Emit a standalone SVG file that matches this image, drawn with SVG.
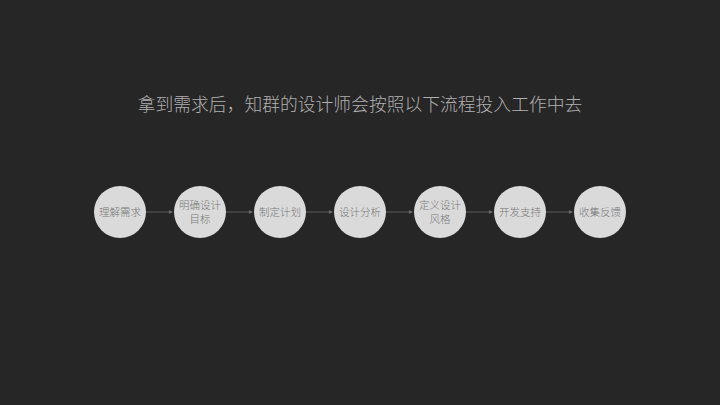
<svg xmlns="http://www.w3.org/2000/svg" width="720" height="405" viewBox="0 0 720 405">
<defs>
<style>
.bg{fill:#262626}
.title{font-family:"Noto Sans CJK SC","Noto Sans",sans-serif;font-size:17.8px;font-weight:300;fill:#b0b0b0;text-anchor:middle}
.node circle{fill:#dadada}
.node text{font-family:"Noto Sans CJK SC","Noto Sans",sans-serif;font-size:10.5px;font-weight:300;fill:#777777;text-anchor:middle}
.conn line{stroke:#5a5a5a;stroke-width:1}
</style>
<marker id="ah" markerWidth="4" markerHeight="4" refX="3" refY="2" orient="auto" markerUnits="userSpaceOnUse">
<path d="M0,0 L4,2 L0,4 Z" fill="#6a6a6a"/>
</marker>
</defs>
<rect class="bg" x="0" y="0" width="720" height="405"/>
<text class="title" x="360" y="111">拿到需求后，知群的设计师会按照以下流程投入工作中去</text>
<g id="connectors" class="conn">
<line x1="146" y1="212" x2="172" y2="212" marker-end="url(#ah)"/>
<line x1="226" y1="212" x2="252" y2="212" marker-end="url(#ah)"/>
<line x1="306" y1="212" x2="332" y2="212" marker-end="url(#ah)"/>
<line x1="386" y1="212" x2="412" y2="212" marker-end="url(#ah)"/>
<line x1="466" y1="212" x2="492" y2="212" marker-end="url(#ah)"/>
<line x1="546" y1="212" x2="572" y2="212" marker-end="url(#ah)"/>
</g>
<g id="n1" class="node"><circle cx="120" cy="212" r="26"/><text x="120" y="216">理解需求</text></g>
<g id="n2" class="node"><circle cx="200" cy="212" r="26"/><text x="200" y="209">明确设计</text><text x="200" y="223">目标</text></g>
<g id="n3" class="node"><circle cx="280" cy="212" r="26"/><text x="280" y="216">制定计划</text></g>
<g id="n4" class="node"><circle cx="360" cy="212" r="26"/><text x="360" y="216">设计分析</text></g>
<g id="n5" class="node"><circle cx="440" cy="212" r="26"/><text x="440" y="209">定义设计</text><text x="440" y="223">风格</text></g>
<g id="n6" class="node"><circle cx="520" cy="212" r="26"/><text x="520" y="216">开发支持</text></g>
<g id="n7" class="node"><circle cx="600" cy="212" r="26"/><text x="600" y="216">收集反馈</text></g>
</svg>
